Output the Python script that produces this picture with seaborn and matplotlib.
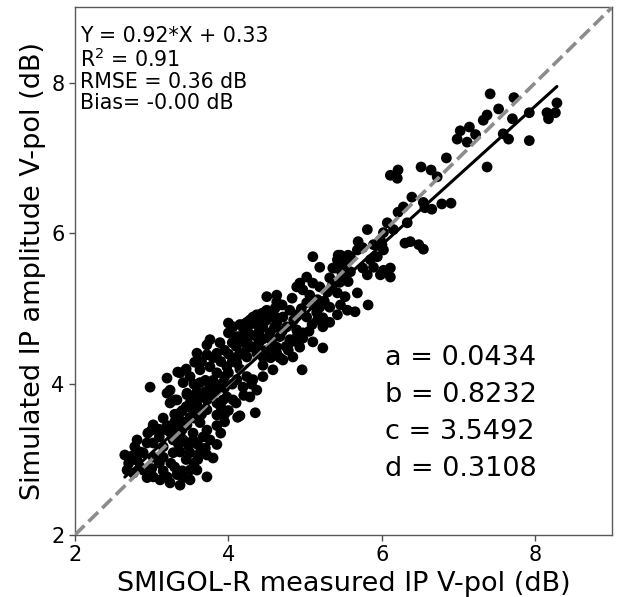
import numpy as np
import pandas as pd
import matplotlib
matplotlib.use("Agg")
import matplotlib.pyplot as plt
import seaborn as sns

# measured (x) vs simulated (y) IP amplitude, V-pol, dB
x_meas = [
    7.41, 7.72, 8.28, 7.52, 7.37, 7.32, 7.92, 8.15, 8.26, 8.17, 7.70, 7.02, 7.14, 7.22, 6.98,
    7.11, 7.58, 7.65, 7.92, 6.84, 7.37, 6.11, 6.21, 6.20, 6.51, 6.64, 6.72, 6.39, 6.28, 6.21,
    6.54, 6.56, 6.65, 6.78, 6.90, 6.33, 6.07, 6.02, 6.15, 6.30, 6.37, 6.48, 6.54, 6.00,
    5.81, 5.98, 5.89, 5.75, 5.69, 6.02, 5.94, 5.85, 5.59, 5.46, 5.42, 5.52, 5.75, 5.89, 6.02,
    6.11, 5.81, 5.98, 6.11, 5.59, 5.48, 5.39,
    5.10, 5.19, 5.43, 5.56, 5.68, 5.36, 5.49, 5.32, 5.49, 5.56, 5.02, 4.93, 5.10, 5.19, 4.97,
    4.89, 4.50, 4.63, 4.63, 4.83, 5.29, 5.42, 5.52, 5.68, 5.06, 5.16, 5.02, 5.19, 5.32, 5.46,
    5.55, 5.65, 4.80, 4.89, 4.71, 4.58, 4.50, 4.44, 4.32, 4.24, 4.15, 4.06, 5.02, 5.16, 5.23,
    5.42, 5.32, 5.09, 5.23,
    4.45, 4.63, 4.76, 4.89, 4.54, 4.67, 4.37, 4.24, 4.11, 4.06, 4.80, 4.97, 4.93, 5.10, 4.78,
    4.58, 4.41, 4.28, 4.19, 4.11, 4.45, 4.67, 5.23, 5.82, 4.96, 4.97, 4.91, 4.80, 4.84, 4.71,
    4.63,
    4.00, 4.00, 4.19, 4.28, 4.37, 4.48, 4.61, 3.76, 3.72, 3.89, 3.59, 3.56, 3.72, 3.85, 3.34,
    3.20, 3.24, 3.30, 3.41, 3.50, 3.46, 2.98, 3.63, 3.76, 3.85, 3.98, 4.11, 4.24, 4.37, 4.50,
    4.63, 3.63, 3.76, 3.93, 4.11, 4.24, 4.32, 4.45, 4.58, 3.54, 3.72, 3.85, 3.98, 4.06, 4.19,
    4.28, 4.37,
    3.20, 3.33, 3.46, 3.59, 3.76, 3.93, 3.24, 3.37, 3.54, 3.72, 3.85, 4.12, 3.50, 3.02, 3.00,
    3.20, 3.30, 3.46, 3.63, 3.72, 3.54, 3.37, 2.81, 2.78, 2.94, 3.02, 3.15, 3.28, 3.41, 3.54,
    3.67, 3.76, 2.65, 2.72, 2.81, 2.89, 3.02, 3.15, 3.28, 3.37, 3.50, 3.63, 3.72, 3.80, 2.68,
    2.76, 2.89, 2.94, 3.02, 3.11, 3.20, 3.33, 3.41, 3.50, 3.59, 3.72, 3.24, 3.37, 4.15, 4.35,
    3.37, 3.50,
    3.60, 3.80, 3.95, 4.05, 3.70, 3.90, 4.00, 4.10, 4.20, 4.30, 4.40, 3.40, 3.55, 3.65, 3.10,
    3.25, 3.40, 3.10, 3.25, 3.45, 3.55, 3.35, 3.48, 3.60, 3.15, 3.30, 3.45, 3.65, 3.80, 4.00,
    4.15, 4.40, 4.55, 4.70, 4.85, 4.95, 5.10, 4.60, 4.70, 4.40, 4.20, 3.90, 4.00, 3.85, 3.95,
    3.55, 3.45, 3.65, 3.80, 3.95, 4.05, 4.15, 4.25, 4.35, 4.50, 4.60, 4.45, 4.30, 4.15, 4.05,
    3.95, 3.85, 3.70, 3.60, 3.50, 3.40, 3.30, 3.20, 3.10, 2.95, 2.85, 2.75, 2.70, 2.85, 3.00,
    3.15, 3.30, 3.40, 3.60, 3.70, 3.85, 3.90, 3.95, 4.10, 4.20, 4.30, 4.45, 4.55, 4.75, 4.90,
    5.05, 5.15, 5.25, 5.35, 5.45,
]
y_sim = [
    7.85, 7.80, 7.73, 7.65, 7.57, 7.50, 7.60, 7.60, 7.60, 7.52, 7.52, 7.36, 7.41, 7.31, 7.25,
    7.21, 7.32, 7.25, 7.23, 7.00, 6.88, 6.77, 6.84, 6.73, 6.88, 6.84, 6.75, 6.48, 6.35, 6.28,
    6.41, 6.34, 6.32, 6.39, 6.40, 6.14, 6.14, 6.01, 6.05, 5.87, 5.89, 5.85, 5.79, 5.85,
    6.05, 5.91, 5.85, 5.81, 5.89, 5.78, 5.69, 5.65, 5.69, 5.71, 5.65, 5.61, 5.54, 5.55, 5.51,
    5.54, 5.45, 5.45, 5.42, 5.49, 5.47, 5.54,
    5.69, 5.55, 5.71, 5.71, 5.78, 5.54, 5.58, 5.41, 5.41, 5.36, 5.42, 5.34, 5.34, 5.29, 5.25,
    5.29, 5.16, 5.18, 5.09, 5.14, 5.22, 5.21, 5.16, 5.21, 5.18, 5.12, 5.08, 5.02, 5.02, 5.05,
    4.98, 4.96, 4.98, 4.92, 4.89, 4.96, 4.98, 4.94, 4.89, 4.82, 4.79, 4.76, 4.89, 4.85, 4.88,
    4.92, 4.82, 4.79, 4.76,
    4.76, 4.81, 4.76, 4.72, 4.68, 4.63, 4.63, 4.59, 4.63, 4.55, 4.59, 4.61, 4.49, 4.56, 4.45,
    4.49, 4.45, 4.49, 4.41, 4.36, 4.36, 4.35, 4.48, 5.05, 4.19, 4.68, 4.55, 4.55, 4.36, 4.32,
    4.41,
    4.81, 4.68, 4.79, 4.85, 4.92, 4.96, 5.01, 4.59, 4.52, 4.55, 4.41, 4.29, 4.39, 4.41, 4.16,
    4.08, 3.92, 3.79, 4.02, 4.10, 3.88, 3.96, 4.19, 4.23, 4.15, 4.23, 4.28, 4.36, 4.41, 4.45,
    4.49, 4.02, 3.96, 4.02, 4.06, 4.10, 4.06, 4.10, 4.19, 3.83, 3.79, 3.75, 3.83, 3.79, 3.96,
    3.83, 3.92,
    3.88, 3.79, 3.86, 3.90, 3.83, 3.79, 3.75, 3.62, 3.66, 3.66, 3.59, 3.56, 3.56, 3.46, 3.39,
    3.39, 3.43, 3.46, 3.49, 3.39, 3.35, 3.33, 3.26, 3.17, 3.22, 3.22, 3.17, 3.26, 3.26, 3.26,
    3.30, 3.26, 3.06, 2.99, 2.99, 3.09, 3.03, 3.03, 3.09, 3.10, 3.09, 3.09, 3.06, 3.02, 2.86,
    2.82, 2.86, 2.76, 2.77, 2.73, 2.77, 2.80, 2.76, 2.73, 2.86, 2.77, 2.69, 2.66, 3.58, 3.62,
    4.15, 2.86,
    3.70, 3.90, 3.95, 4.00, 4.05, 4.30, 4.40, 4.50, 4.55, 4.65, 4.70, 3.50, 3.55, 3.60, 3.30,
    3.35, 3.40, 2.95, 2.95, 3.00, 2.95, 3.20, 3.18, 3.20, 3.55, 3.60, 3.70, 3.85, 4.05, 4.15,
    4.20, 4.55, 4.60, 4.70, 4.85, 5.00, 5.05, 4.90, 5.05, 4.85, 4.70, 3.70, 3.65, 3.45, 3.50,
    4.00, 4.20, 4.30, 4.35, 4.45, 4.55, 4.62, 4.75, 4.80, 4.85, 4.75, 4.60, 4.50, 4.40, 4.30,
    4.10, 3.95, 3.90, 3.80, 3.75, 3.65, 3.50, 3.45, 3.40, 3.35, 3.10, 3.05, 2.95, 2.90, 2.88,
    2.85, 2.90, 2.85, 3.00, 3.15, 3.20, 3.35, 3.60, 3.75, 3.85, 4.00, 4.25, 4.35, 4.50, 4.65,
    4.70, 4.95, 5.10, 5.30, 5.35,
]

# fit + stats as printed on the figure
slope, intercept = 0.92, 0.33
stats_lines = ["Y = 0.92*X + 0.33", "R$^2$ = 0.91", "RMSE = 0.36 dB", "Bias= -0.00 dB"]
param_lines = ["a = 0.0434", "b = 0.8232", "c = 3.5492", "d = 0.3108"]
ax_lim = (2, 9)
ticks = [2, 4, 6, 8]

df = pd.DataFrame({"measured": x_meas, "simulated": y_sim})

sns.set_style("ticks")
plt.rcParams["font.family"] = ["DejaVu Sans"]
plt.rcParams.update({"text.color": "black", "axes.labelcolor": "black",
                     "xtick.color": "black", "ytick.color": "black"})

fig, ax = plt.subplots(figsize=(6.19, 5.97), dpi=100)
fig.subplots_adjust(left=0.121, right=0.989, top=0.988, bottom=0.104)

# 1:1 line
ax.plot(ax_lim, ax_lim, ls="--", color="0.55", lw=2.6, zorder=3)

sns.scatterplot(data=df, x="measured", y="simulated", color="black",
                edgecolor="none", s=60, ax=ax, zorder=2)

# regression line over the data range
xf = np.array([df["measured"].min(), df["measured"].max()])
ax.plot(xf, slope * xf + intercept, color="black", lw=2.2, zorder=4)

ax.set(xlim=ax_lim, ylim=ax_lim, xticks=ticks, yticks=ticks)
ax.set_xlabel("SMIGOL-R measured IP V-pol (dB)", fontsize=19.5)
ax.set_ylabel("Simulated IP amplitude V-pol (dB)", fontsize=19.5)
ax.tick_params(labelsize=15, length=4, width=1, color="0.3")
for sp in ax.spines.values():
    sp.set_color("0.35")
    sp.set_linewidth(1)

ax.text(0.01, 0.965, "\n".join(stats_lines), transform=ax.transAxes,
        fontsize=14.8, va="top", ha="left", linespacing=1.08)
ax.text(0.577, 0.10, "\n".join(param_lines), transform=ax.transAxes,
        fontsize=19.5, va="bottom", ha="left", linespacing=1.55)

fig.savefig("out.png", dpi=100)
